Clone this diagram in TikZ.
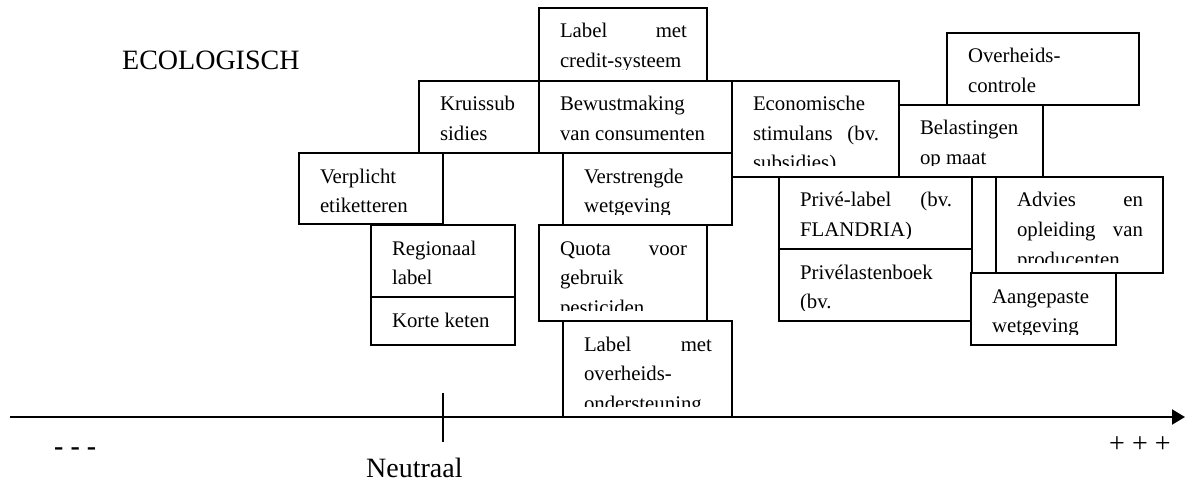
\documentclass[tikz,border=0pt]{standalone}
\usepackage{fontspec}
\setmainfont{Liberation Serif}
\usetikzlibrary{arrows.meta}

% one unit = 1pt, y grows downwards
\tikzset{
  x=1pt, y=-1pt,
  box/.style={draw, line width=2.2pt, fill=white, inner sep=0pt, outer sep=0pt, anchor=north west},
  boxtext/.style={anchor=base west, inner sep=0pt, outer sep=0pt},
  biglabel/.style={anchor=base west, inner sep=0pt, font=\fontsize{28}{32}\selectfont},
  axisline/.style={line width=2pt, -{Triangle[length=13pt,width=15pt]}},
  tickline/.style={line width=2pt},
}
\newcommand\boxfont{\fontsize{20.8}{29.5}\selectfont}

% \tbox{name}{left}{top}{right}{bottom}{text}: framed text box whose text is cut off near the bottom edge
\newcommand\tbox[6]{%
  \node[box, minimum width={#4pt-#2pt}, minimum height={#5pt-#3pt}] (#1) at (#2,#3) {};
  \begin{scope}
    \clip (#1.north west) rectangle ([yshift=11pt]#1.south east);
    \node[boxtext] (#1-text) at (#2+21,#3+30)
      {\parbox[t]{\dimexpr #4pt-#2pt-41pt\relax}{\boxfont #6}};
  \end{scope}}

\begin{document}
\begin{tikzpicture}
\useasboundingbox (0,0) rectangle (1185,481);

% instruments
\tbox{credit}{539}{8}{707}{81}{Label\hfill met\\credit-systeem}
\tbox{kruis}{419}{81}{539}{153}{Kruissub\\sidies}
\tbox{bewust}{539}{81}{732}{153}{Bewustmaking\\van consumenten}
\tbox{econ}{732}{81}{899}{177}{Economische\\stimulans\hfill(bv.\\subsidies)}
\tbox{controle}{947}{33}{1139}{105}{Overheids-\\controle}
\tbox{belast}{899}{105}{1043}{177}{Belastingen\\op maat}
\tbox{verplicht}{299}{153}{443}{224}{Verplicht\\etiketteren}
\tbox{verstreng}{563}{153}{732}{225}{Verstrengde\\wetgeving}
\tbox{privelabel}{779}{177}{972}{249}{Privé-label\hfill(bv.\\FLANDRIA)}
\tbox{advies}{996}{177}{1163}{273}{Advies\hfill en\\opleiding\hfill van\\producenten}
\tbox{regio}{371}{225}{515}{297}{Regionaal\\label}
\tbox{korte}{371}{297}{515}{345}{Korte keten}
\tbox{quota}{539}{225}{707}{321}{Quota\hfill voor\\gebruik\\pesticiden}
\tbox{lastenboek}{779}{249}{972}{321}{Privélastenboek\\(bv.}
\tbox{aangepast}{971}{273}{1116}{345}{Aangepaste\\wetgeving}
\tbox{steun}{563}{321}{732}{417}{Label\hfill met\\overheids-\\ondersteuning}

% scale axis with the neutral point
\coordinate (axL) at (10,417);
\coordinate (axR) at (1185,417);
\coordinate (tkT) at (443,393);
\coordinate (tkB) at (443,442);
\draw[axisline] (axL) -- (axR);
\draw[tickline] (tkT) -- (tkB);

% labels
\node[biglabel] (eco) at (122,70) {ECOLOGISCH};
\node[biglabel] (neutraal) at (366,477) {Neutraal};
\node[biglabel] (minus) at (54,455) {\bfseries - - -};
\node[biglabel] (plus) at (1109,452) {+ + +};
\end{tikzpicture}
\end{document}
